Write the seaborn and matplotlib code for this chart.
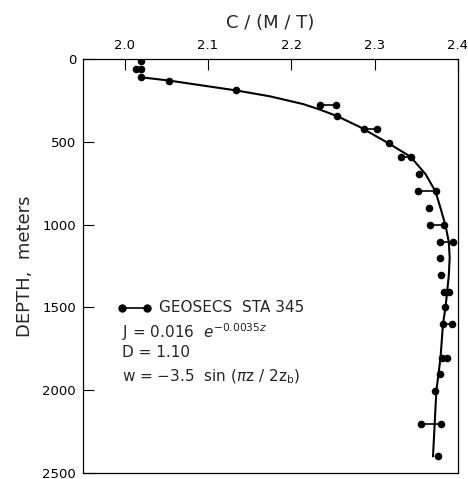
import matplotlib
matplotlib.use("Agg")
from matplotlib import pyplot as plt
import pandas as pd
import seaborn as sns

# single observations (depth m, C/(M/T))
single_depth = [10, 110, 130, 190, 345, 510, 695, 900, 1200, 1305, 1500, 1905, 2005, 2400]
single_c = [2.019, 2.019, 2.053, 2.134, 2.255, 2.317, 2.353, 2.365, 2.378, 2.379, 2.384, 2.378, 2.372, 2.376]

# paired observations joined by a bar
pair_depth = [62, 275, 425, 590, 800, 1005, 1105, 1405, 1600, 1805, 2205]
pair_left = [2.014, 2.234, 2.287, 2.331, 2.352, 2.366, 2.378, 2.383, 2.382, 2.381, 2.356]
pair_right = [2.020, 2.253, 2.303, 2.343, 2.373, 2.383, 2.394, 2.389, 2.393, 2.387, 2.380]

# model curve
model_depth = [110, 130, 190, 225, 272, 305, 345, 410, 510, 590, 695, 800, 900,
               1005, 1105, 1200, 1305, 1405, 1500, 1600, 1805, 2005, 2205, 2400]
model_c = [2.019, 2.053, 2.134, 2.174, 2.214, 2.234, 2.255, 2.282, 2.317, 2.343, 2.361, 2.373, 2.379,
           2.385, 2.389, 2.390, 2.389, 2.387, 2.385, 2.382, 2.379, 2.374, 2.372, 2.370]

x_ticks = [2.0, 2.1, 2.2, 2.3, 2.4]
y_ticks = [0, 500, 1000, 1500, 2000, 2500]

sns.set_style("ticks")
plt.rcParams["font.family"] = ["DejaVu Sans"]
plt.rcParams["mathtext.fontset"] = "dejavusans"

fig = plt.figure(figsize=(4.68, 4.79), dpi=100)
ax = fig.add_axes([83 / 468, 1 - 473 / 479, 375 / 468, 414 / 479])

model = pd.DataFrame({"depth": model_depth, "c": model_c})
sns.lineplot(data=model, x="c", y="depth", sort=False, estimator=None,
             color="black", linewidth=1.5, ax=ax)

for d, l, r in zip(pair_depth, pair_left, pair_right):
    ax.plot([l, r], [d, d], color="black", linewidth=1.2)

points = pd.DataFrame({
    "depth": single_depth + pair_depth + pair_depth,
    "c": single_c + pair_left + pair_right,
})
sns.scatterplot(data=points, x="c", y="depth", color="black", s=30,
                edgecolor="black", linewidth=0, ax=ax, zorder=3)

ax.set_xlim(1.95, 2.40)
ax.set_ylim(2500, 0)
ax.xaxis.tick_top()
ax.xaxis.set_label_position("top")
ax.set_xticks(x_ticks)
ax.set_xticklabels([f"{t:.1f}" for t in x_ticks])
ax.set_yticks(y_ticks)
ax.set_yticklabels([str(t) for t in y_ticks])
ax.tick_params(direction="in", length=8, width=0.8, labelsize=9.5, colors="black",
               pad=5)
ax.set_xlabel("C / (M / T)", fontsize=13, labelpad=8)
ax.set_ylabel("DEPTH,  meters", fontsize=13, labelpad=6)
for s in ax.spines.values():
    s.set_linewidth(0.9)
    s.set_color("black")

# legend block
ax.plot([0.104, 0.171], [0.399, 0.399], transform=ax.transAxes, color="black",
        linewidth=1.2, marker="o", markersize=5, clip_on=False)
ax.text(0.203, 0.399, "GEOSECS  STA 345", transform=ax.transAxes, fontsize=11,
        va="center", ha="left")
ax.text(0.104, 0.341, r"J = 0.016  $e^{-0.0035z}$", transform=ax.transAxes,
        fontsize=11, va="center", ha="left")
ax.text(0.104, 0.290, "D = 1.10", transform=ax.transAxes, fontsize=11,
        va="center", ha="left")
ax.text(0.104, 0.232, r"w = −3.5  sin ($\pi$z / 2z$_\mathrm{b}$)", transform=ax.transAxes,
        fontsize=11, va="center", ha="left")

fig.savefig("out.png", dpi=100)
